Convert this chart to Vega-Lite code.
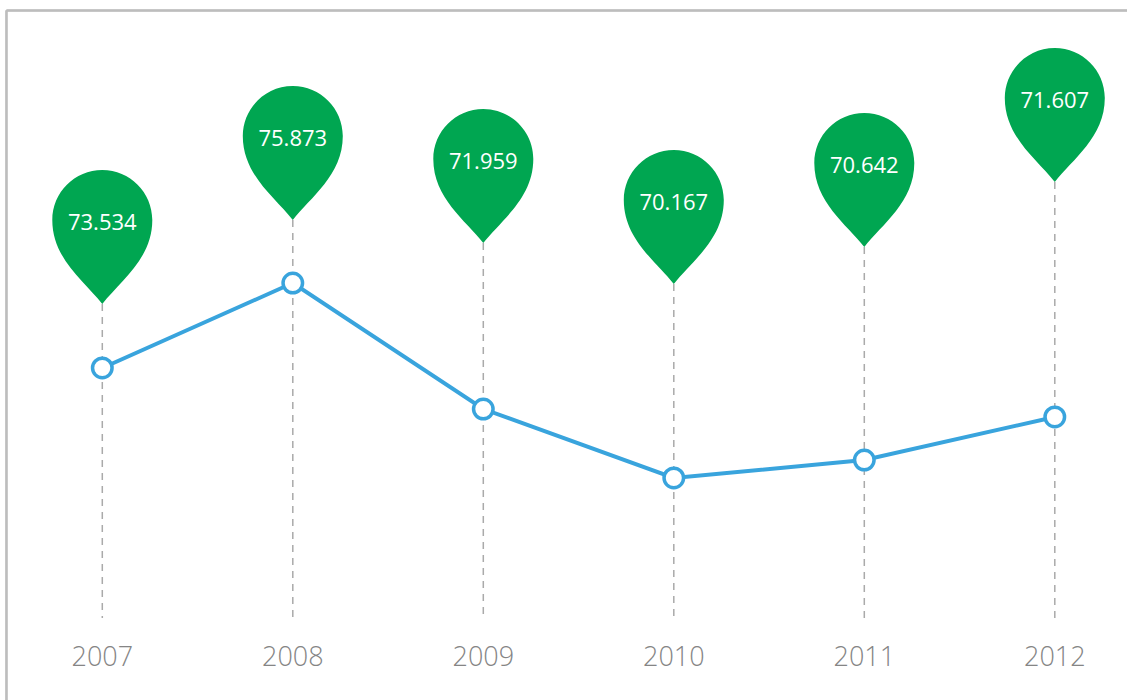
{
  "$schema": "https://vega.github.io/schema/vega-lite/v6.json",
  "width": 1127,
  "height": 700,
  "autosize": "none",
  "padding": 0,
  "background": "white",
  "config": {"view": {"stroke": null}},
  "data": {
    "values": [
      {"year": 2007, "value": "73.534", "line": 73.486, "pin": 75.314},
      {"year": 2008, "value": "75.873", "line": 75.914, "pin": 77.714},
      {"year": 2009, "value": "71.959", "line": 72.314, "pin": 77.057},
      {"year": 2010, "value": "70.167", "line": 70.343, "pin": 75.886},
      {"year": 2011, "value": "70.642", "line": 70.857, "pin": 76.943},
      {"year": 2012, "value": "71.607", "line": 72.086, "pin": 78.8}
    ]
  },
  "layer": [
    {
      "mark": {"type": "rule", "color": "#aaaaaa", "strokeWidth": 1.5, "strokeDash": [7, 6]},
      "encoding": {
        "x": {"field": "year", "type": "quantitative", "axis": null,
              "scale": {"domain": [2006.463, 2012.379], "nice": false, "zero": false}},
        "y": {"field": "pin", "type": "quantitative", "axis": null,
              "scale": {"domain": [64, 84], "nice": false, "zero": false}},
        "y2": {"datum": 66.343}
      }
    },
    {
      "mark": {"type": "rule", "color": "#bdbdbd", "strokeWidth": 1.5},
      "encoding": {
        "x": {"datum": 2006.497, "type": "quantitative"},
        "x2": {"datum": 2012.379},
        "y": {"datum": 83.7, "type": "quantitative"}
      }
    },
    {
      "mark": {"type": "rule", "color": "#bdbdbd", "strokeWidth": 1.5},
      "encoding": {
        "x": {"datum": 2006.497, "type": "quantitative"},
        "y": {"datum": 83.7, "type": "quantitative"},
        "y2": {"datum": 64}
      }
    },
    {
      "mark": {"type": "line", "color": "#39a4dd", "strokeWidth": 4},
      "encoding": {
        "x": {"field": "year", "type": "quantitative"},
        "y": {"field": "line", "type": "quantitative"}
      }
    },
    {
      "mark": {"type": "point", "shape": "circle", "filled": true, "fill": "white",
               "stroke": "#39a4dd", "strokeWidth": 3.5, "size": 380, "opacity": 1},
      "encoding": {
        "x": {"field": "year", "type": "quantitative"},
        "y": {"field": "line", "type": "quantitative"}
      }
    },
    {
      "mark": {"type": "point", "shape": "M0 0 C-0.35 -0.45 -1 -0.9 -1 -1.68 A1 1 0 1 1 1 -1.68 C1 -0.9 0.35 -0.45 0 0 Z",
               "filled": true, "fill": "#00a651", "strokeWidth": 0, "size": 10000, "opacity": 1},
      "encoding": {
        "x": {"field": "year", "type": "quantitative"},
        "y": {"field": "pin", "type": "quantitative"}
      }
    },
    {
      "mark": {"type": "text", "color": "white", "font": "Open Sans", "fontSize": 22,
               "baseline": "middle", "align": "center", "dy": -81},
      "encoding": {
        "x": {"field": "year", "type": "quantitative"},
        "y": {"field": "pin", "type": "quantitative"},
        "text": {"field": "value", "type": "nominal"}
      }
    },
    {
      "mark": {"type": "text", "color": "#858585", "font": "Open Sans", "fontSize": 27,
               "fontWeight": 300, "baseline": "middle", "align": "center"},
      "encoding": {
        "x": {"field": "year", "type": "quantitative"},
        "y": {"datum": 65.2, "type": "quantitative"},
        "text": {"field": "year", "type": "quantitative", "format": "d"}
      }
    }
  ]
}
